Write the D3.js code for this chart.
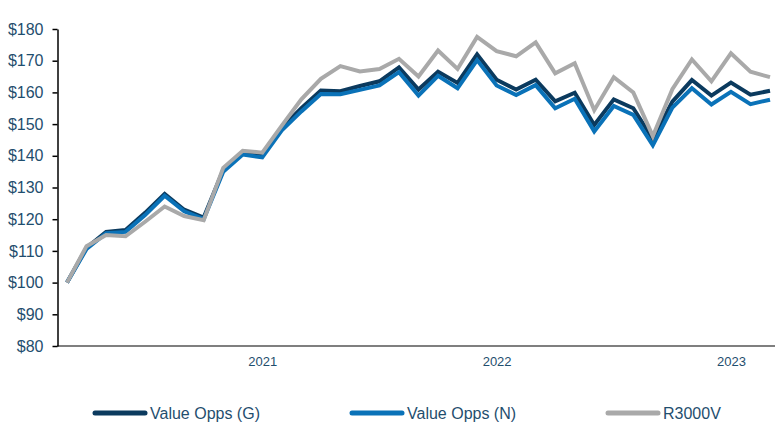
<!DOCTYPE html>
<html>
<head>
<meta charset="utf-8">
<script src="https://cdn.jsdelivr.net/npm/d3@7"></script>
<style>
  html, body { margin: 0; padding: 0; background: #ffffff; }
  svg { display: block; }
  text { font-family: "Liberation Sans", Arial, sans-serif; }
</style>
</head>
<body>
<svg id="chart" width="775" height="428"></svg>
<script>
// Monthly categories, Mar 2020 .. Mar 2023
const categories = [
  "2020-03","2020-04","2020-05","2020-06","2020-07","2020-08","2020-09","2020-10","2020-11","2020-12",
  "2021-01","2021-02","2021-03","2021-04","2021-05","2021-06","2021-07","2021-08","2021-09","2021-10","2021-11","2021-12",
  "2022-01","2022-02","2022-03","2022-04","2022-05","2022-06","2022-07","2022-08","2022-09","2022-10","2022-11","2022-12",
  "2023-01","2023-02","2023-03"
];
const yearTicks = ["2021-01", "2022-01", "2023-01"];
const yearLabels = ["2021", "2022", "2023"];

const valueOppsG = [100,111,116,116.6,122,128,123,120.5,135.5,140.8,140,148.8,155,160.6,160.4,162,163.5,167.9,160.9,166.5,163,172,164,160.9,164,157.2,159.9,149.7,157.8,155,145.3,157.1,163.9,159,163.1,159.3,160.5];
const valueOppsN = [100,110.6,115.6,116,121.3,127.4,122.5,120,135,140.4,139.5,148,154,159.5,159.4,160.8,162.2,166.4,159,165.2,161.3,170.2,162.2,159.2,162.3,155,158,147.7,155.7,152.9,143.3,155.2,161.3,156.2,160.2,156.3,157.7];
const r3000v     = [100,111.5,115,114.6,119.2,124,121,119.7,136.2,141.6,141,149.5,157.8,164.3,168.3,166.6,167.4,170.6,165,173.2,167.4,177.5,173,171.4,175.8,166,169.2,154.4,164.8,160,146.2,161,170.4,163.5,172.3,166.5,164.8];

const seriesNames = ["Value Opps (G)", "Value Opps (N)", "R3000V"];
const seriesValues = [valueOppsG, valueOppsN, r3000v];
const seriesColors = ["#0b3a5e", "#0a72b8", "#a9a9a9"];

const yTicks = [80,90,100,110,120,130,140,150,160,170,180];

const svg = d3.select("#chart");
const labelColor = "#1f4e6e";

const x = d3.scalePoint().domain(categories).range([67, 770]);
const y = d3.scaleLinear().domain([80, 180]).range([346, 29]);

// X axis (grey baseline)
const xAxis = svg.append("g")
  .attr("transform", "translate(0,346)")
  .call(d3.axisBottom(x).tickValues(yearTicks)
    .tickFormat(d => yearLabels[yearTicks.indexOf(d)])
    .tickSize(0).tickPadding(11));
xAxis.select(".domain").remove();
xAxis.append("line").attr("x1", 57).attr("x2", 775).attr("y1", 0).attr("y2", 0)
  .attr("stroke", "#7f7f7f").attr("stroke-width", 2);
xAxis.selectAll("text").attr("fill", labelColor).attr("font-size", "13px");

// Y axis
const yAxis = svg.append("g")
  .attr("transform", "translate(57.5,0)")
  .call(d3.axisLeft(y).tickValues(yTicks).tickFormat(d => "$" + d)
    .tickSize(5).tickSizeOuter(0).tickPadding(9));
yAxis.select(".domain").attr("stroke", "#000").attr("stroke-width", 1.5);
yAxis.selectAll(".tick line").attr("stroke", "#000").attr("stroke-width", 1.5);
yAxis.selectAll("text").attr("fill", labelColor).attr("font-size", "16px");

// Lines
const line = d3.line()
  .x((d, i) => x(categories[i]))
  .y(d => y(d));

seriesValues.forEach((vals, k) => {
  svg.append("path")
    .datum(vals)
    .attr("fill", "none")
    .attr("stroke", seriesColors[k])
    .attr("stroke-width", 4)
    .attr("stroke-linejoin", "miter")
    .attr("d", line);
});

// Legend
const legendX = [93, 350, 606];
const legend = svg.append("g");
seriesNames.forEach((name, k) => {
  const g = legend.append("g").attr("transform", `translate(${legendX[k]},413)`);
  g.append("line").attr("x1", 2).attr("x2", 52).attr("y1", 0).attr("y2", 0)
    .attr("stroke", seriesColors[k]).attr("stroke-width", 5).attr("stroke-linecap", "round");
  g.append("text").attr("x", 57).attr("y", 0).attr("dy", "0.35em")
    .attr("fill", labelColor).attr("font-size", "16px").text(name);
});
</script>
</body>
</html>
